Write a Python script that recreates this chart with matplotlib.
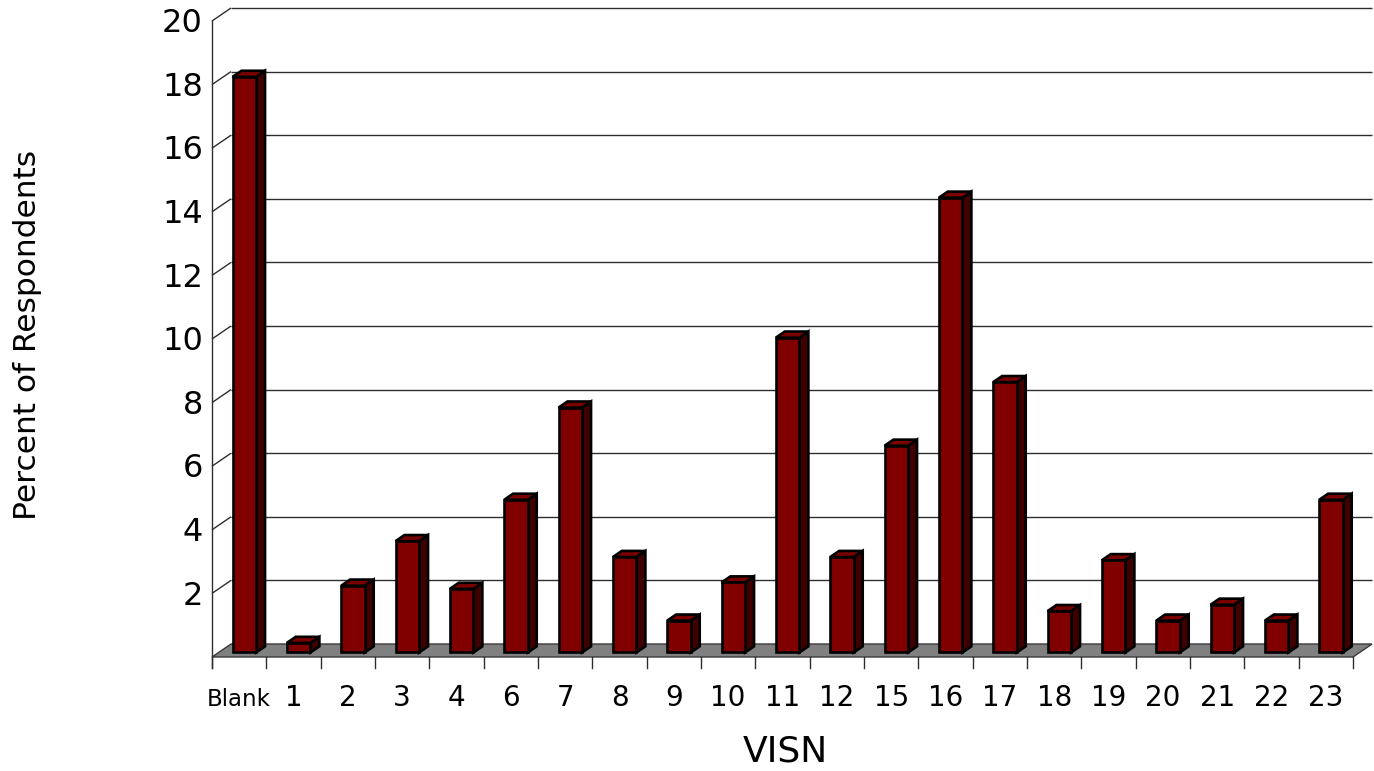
import matplotlib
matplotlib.use("Agg")
import matplotlib.pyplot as plt
from matplotlib.patches import Polygon

# Share of respondents by VISN
categories = ["Blank", "1", "2", "3", "4", "6", "7", "8", "9", "10", "11", "12",
              "15", "16", "17", "18", "19", "20", "21", "22", "23"]
percent = [18.1, 0.3, 2.1, 3.5, 2.0, 4.8, 7.7, 3.0, 1.0, 2.2, 9.9, 3.0,
           6.5, 14.3, 8.5, 1.3, 2.9, 1.0, 1.5, 1.0, 4.8]
y_ticks = [2, 4, 6, 8, 10, 12, 14, 16, 18, 20]
y_max = 20

W, H = 1374, 771
fig = plt.figure(figsize=(W / 100, H / 100), dpi=100)
fig.patch.set_facecolor("white")

# front plane of the plot box, in pixels
left_px, right_px, base_px, top_px = 212, 1353, 657, 21
ax = fig.add_axes([left_px / W, 1 - base_px / H,
                   (right_px - left_px) / W, (base_px - top_px) / H])
n = len(categories)
ax.set_xlim(0, n)
ax.set_ylim(0, y_max)
ax.axis("off")

px_x = (right_px - left_px) / n      # pixels per category
px_y = (base_px - top_px) / y_max    # pixels per percent
DX = 19 / px_x                       # oblique depth, x
DY = 13 / px_y                       # oblique depth, y


def depth(x, y, d):
    """Project a point (x, y) pushed back by depth fraction d."""
    return (x + d * DX, y + d * DY)


# floor
floor = Polygon([depth(0, 0, 0), depth(n, 0, 0), depth(n, 0, 1), depth(0, 0, 1)],
                closed=True, facecolor="#808080", edgecolor="#3a3a3a",
                linewidth=1.0, zorder=1, clip_on=False)
ax.add_patch(floor)

# back-wall gridlines and side-wall diagonals
grid_kw = dict(color="#2e2e2e", linewidth=1.0, zorder=2, clip_on=False,
               solid_capstyle="butt")
for v in y_ticks:
    xa, ya = depth(0, v, 1)
    xb, yb = depth(n, v, 1)
    ax.plot([xa, xb], [ya, yb], **grid_kw)
    ax.plot([0, xa], [v, ya], **grid_kw)

# front value axis and category ticks
tick_len = 11 / px_y
ax.plot([0, 0], [-tick_len, y_max], color="#2e2e2e", linewidth=1.0,
        zorder=2, clip_on=False)
for i in range(n + 1):
    ax.plot([i, i], [0, -tick_len], color="#2e2e2e", linewidth=1.0,
            zorder=2, clip_on=False)

# 3-D columns
bar_off, bar_w = 0.2555, 0.434
d0, d1 = 0.35, 0.82
edge_kw = dict(edgecolor="black", linewidth=1.9, joinstyle="miter")
front_col, side_col, top_col = "#800000", "#3f0000", "#7a0000"

for i, v in enumerate(percent):
    x0 = i + bar_off
    x1 = x0 + bar_w
    side = Polygon([depth(x1, 0, d0), depth(x1, 0, d1),
                    depth(x1, v, d1), depth(x1, v, d0)],
                   closed=True, facecolor=side_col, zorder=4, clip_on=False,
                   **edge_kw)
    top = Polygon([depth(x0, v, d0), depth(x1, v, d0),
                   depth(x1, v, d1), depth(x0, v, d1)],
                  closed=True, facecolor=top_col, zorder=4, clip_on=False,
                  **edge_kw)
    ax.add_patch(side)
    ax.add_patch(top)

ax.bar([i + bar_off + d0 * DX for i in range(n)], percent, width=bar_w,
       bottom=d0 * DY, align="edge", color=front_col, zorder=5,
       clip_on=False, **edge_kw)

# value labels on the front axis
for v in y_ticks:
    ax.text(-9 / px_x, v - 11.2 / px_y, str(v), ha="right", va="baseline",
            fontsize=23, color="black", family="DejaVu Sans")

# category labels
for i, c in enumerate(categories):
    ax.text(i + 0.5, -49 / px_y, c, ha="center", va="baseline",
            fontsize=16.5 if c == "Blank" else 20, color="black",
            family="DejaVu Sans")

fig.text(785 / W, 1 - 762 / H, "VISN", ha="center", va="baseline",
         fontsize=26, family="DejaVu Sans")
fig.text(28 / W, 1 - 335 / H, "Percent of Respondents", ha="center",
         va="center", rotation=90, fontsize=22.5, family="DejaVu Sans")

fig.savefig("out.png", dpi=100, facecolor="white")
